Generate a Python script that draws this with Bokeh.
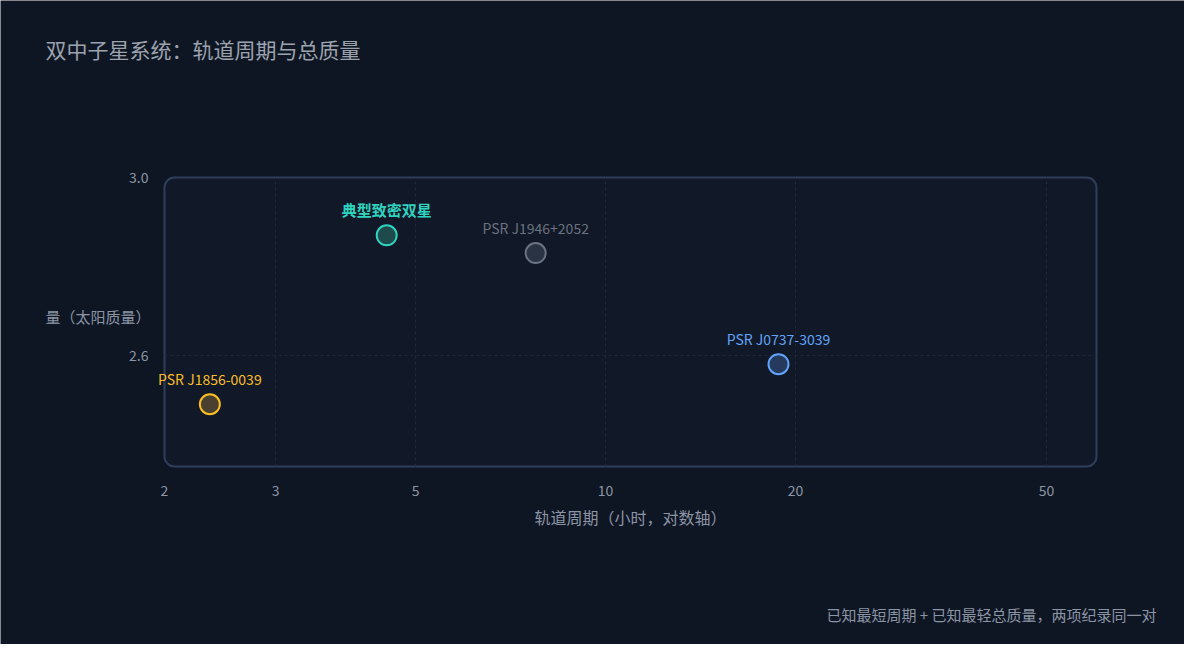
import math
from bokeh.plotting import figure
from bokeh.models import (ColumnDataSource, FixedTicker, Label, BoxAnnotation,
                          PrintfTickFormatter, Range1d)
from bokeh.embed import file_html
from bokeh.resources import INLINE
from bokeh.core.properties import value

# ---- data ----
names = ["典型致密双星", "PSR J1946+2052", "PSR J0737-3039", "PSR J1856-0039"]
period_hours = [4.5, 7.75, 18.8, 2.36]
total_mass = [2.87, 2.83, 2.58, 2.49]
line_colors = ["#2dd4bf", "#6b7280", "#60a5fa", "#fbbf24"]
fill_colors = ["#1e4a4c", "#2a3344", "#253a5c", "#4a4030"]
label_colors = ["#2dd4bf", "#6b7280", "#60a5fa", "#fbbf24"]
label_styles = ["bold", "normal", "normal", "normal"]
label_sizes = ["15px", "14px", "14px", "14px"]
x_ticks = [2, 3, 5, 10, 20, 50]
y_ticks = [2.6, 3.0]

# axis extents of the plotting box
x_lo, x_hi = 2, 60
y_lo, y_hi = 2.35, 3.0

title_text = "双中子星系统：轨道周期与总质量"
x_title = "轨道周期（小时，对数轴）"
y_title = "量（太阳质量）"
footer = "已知最短周期 + 已知最轻总质量，两项纪录同一对"

# ---- layout (pixels) ----
W, H = 1184, 644
BOX_L, BOX_R, BOX_T, BOX_B = 164, 1096, 177, 466

BG = "#0f1623"
FRAME_BG = "#111827"
FONT = "Noto Sans CJK SC"

# extend ranges so the frame spans the whole canvas (texts are not clipped)
ppd = (BOX_R - BOX_L) / math.log10(x_hi / x_lo)
xr0 = x_lo * 10 ** (-BOX_L / ppd)
xr1 = x_hi * 10 ** ((W - BOX_R) / ppd)
ppu = (BOX_B - BOX_T) / (y_hi - y_lo)
yr1 = y_hi + BOX_T / ppu
yr0 = y_lo - (H - BOX_B) / ppu

p = figure(width=W, height=H, x_axis_type="log",
           x_range=Range1d(xr0, xr1), y_range=Range1d(yr0, yr1),
           output_backend="svg", toolbar_location=None,
           min_border=0, min_border_left=0, min_border_right=0,
           min_border_top=0, min_border_bottom=0)
p.title.visible = False
p.background_fill_color = BG
p.border_fill_color = BG
p.outline_line_color = None
p.xgrid.visible = False
p.ygrid.visible = False

box = BoxAnnotation(left=x_lo, right=x_hi, bottom=y_lo, top=y_hi,
                    fill_color=FRAME_BG, fill_alpha=1.0,
                    line_color="#2e3e5a", line_alpha=1.0, line_width=2,
                    border_radius=10, level="underlay")
p.add_layout(box)

# grid lines (inside the box)
gx = [t for t in x_ticks if x_lo < t < x_hi]
gy = [t for t in y_ticks if y_lo < t < y_hi]
p.segment(x0=gx, x1=gx, y0=[y_lo] * len(gx), y1=[y_hi] * len(gx),
          line_color="#1f2b3d", line_dash="3 3", line_width=1)
p.segment(x0=[x_lo] * len(gy), x1=[x_hi] * len(gy), y0=gy, y1=gy,
          line_color="#1f2b3d", line_dash="3 3", line_width=1)

# axes pinned to the box edges
for ax in (p.xaxis[0], p.yaxis[0]):
    ax.axis_line_color = None
    ax.major_tick_line_color = None
    ax.minor_tick_line_color = None
    ax.major_label_text_color = "#8b95a5"
    ax.major_label_text_font_size = "14px"
    ax.major_label_text_font = FONT
    ax.axis_label_text_color = "#8b95a5"
    ax.axis_label_text_font = FONT
    ax.axis_label_text_font_style = "normal"
    ax.axis_label_text_font_size = "16px"

p.xaxis.fixed_location = y_lo
p.xaxis.bounds = (x_lo, x_hi)
p.xaxis.ticker = FixedTicker(ticks=x_ticks)
p.xaxis.formatter = PrintfTickFormatter(format="%d")
p.xaxis.major_label_standoff = 12
p.xaxis.axis_label = x_title
p.xaxis.axis_label_standoff = 6

p.yaxis.fixed_location = x_lo
p.yaxis.bounds = (y_lo, y_hi)
p.yaxis.ticker = FixedTicker(ticks=y_ticks)
p.yaxis.formatter = PrintfTickFormatter(format="%.1f")
p.yaxis.major_label_standoff = 10

src = ColumnDataSource(dict(x=period_hours, y=total_mass, name=names,
                            lc=line_colors, fc=fill_colors, tc=label_colors,
                            fs=label_styles, fz=label_sizes))
p.scatter("x", "y", source=src, size=20, line_color="lc", fill_color="fc",
          line_width=2)
p.text("x", "y", text="name", source=src, text_color="tc",
       text_font=value(FONT), text_font_size="fz", text_font_style="fs",
       text_align="center", text_baseline="bottom", y_offset=-15)

p.add_layout(Label(x=45, y=H - 48, x_units="screen", y_units="screen",
                   text=title_text, text_color="#9ca3af", text_font=FONT,
                   text_font_size="21px", text_baseline="middle"))
p.add_layout(Label(x=150, y=H - 316, x_units="screen", y_units="screen",
                   text=y_title, text_color="#8b95a5", text_font=FONT,
                   text_font_size="15px", text_align="right",
                   text_baseline="middle"))
p.add_layout(Label(x=1156, y=H - 614, x_units="screen", y_units="screen",
                   text=footer, text_color="#8b95a5", text_font=FONT,
                   text_font_size="15px", text_align="right",
                   text_baseline="middle"))

open("out.html", "w").write(file_html(p, INLINE))
